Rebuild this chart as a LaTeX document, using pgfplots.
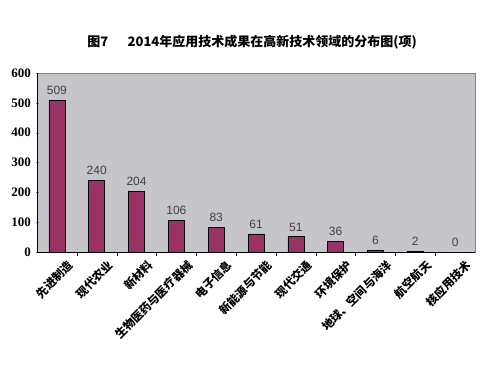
\documentclass[border=0pt]{standalone}
\usepackage{pgfplots}
\pgfplotsset{compat=1.18}
\usepackage{fontspec}
\setmainfont{Liberation Serif}
\newfontfamily\cjk{Noto Sans CJK SC}
\newfontfamily\lab{Liberation Sans}
\definecolor{barc}{RGB}{153,51,102}
\definecolor{bgc}{RGB}{198,198,202}
\begin{document}
\begin{tikzpicture}
\useasboundingbox (0pt,0pt) rectangle (500pt,364pt);
\node[font=\cjk\bfseries\fontsize{13}{15}\selectfont] at (252pt,322pt) {图7\hspace{1.5em}2014年应用技术成果在高新技术领域的分布图(项)};
\begin{axis}[
  at={(37pt,112pt)}, anchor=south west,
  scale only axis, width=438pt, height=179pt,
  xmin=-0.5, xmax=10.5, ymin=0, ymax=600,
  ytick={0,100,...,600},
  xtick={0,...,10},
  xticklabels={先进制造,现代农业,新材料,生物医药与医疗器械,电子信息,新能源与节能,现代交通,环境保护,{地球、空间与海洋},航空航天,核应用技术},
  minor xtick={0.5,1.5,...,9.5},
  x tick label style={rotate=45, anchor=north east, font=\cjk\bfseries\fontsize{11.5}{13}\selectfont, inner sep=1pt, xshift=5pt, yshift=-9pt},
  y tick label style={font=\bfseries\fontsize{13}{15}\selectfont, xshift=-1pt},
  /pgf/number format/assume math mode=true,
  major x tick style={draw=none},
  minor x tick style={black},
  minor tick length=4pt,
  major tick length=3pt,
  ytick align=outside,
  xtick align=inside,
  axis lines=left,
  axis line style={black,-},
  axis background/.style={fill=bgc, draw=gray},
  ybar, bar width=16pt,
  nodes near coords,
  every node near coord/.append style={font=\lab\fontsize{12}{14}\selectfont, text=black!75, yshift=2pt},
  clip=false,
]
\addplot[fill=barc, draw=black, line width=0.6pt] coordinates {
(0,509) (1,240) (2,204) (3,106) (4,83) (5,61) (6,51) (7,36) (8,6) (9,2) (10,0)};
\end{axis}
\end{tikzpicture}
\end{document}
